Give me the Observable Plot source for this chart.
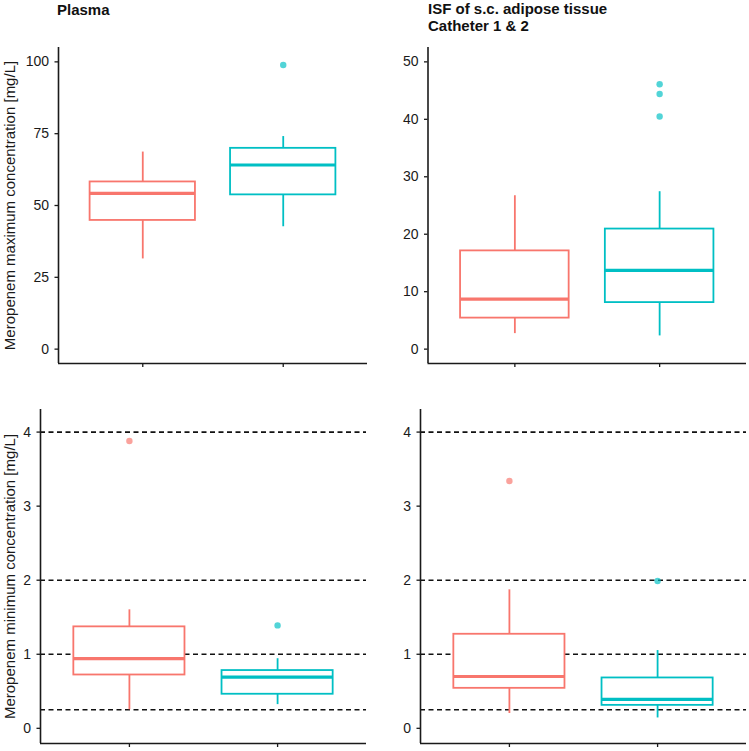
<!DOCTYPE html>
<html>
<head>
<meta charset="utf-8">
<script src="https://cdn.jsdelivr.net/npm/d3@7"></script>
<script src="https://cdn.jsdelivr.net/npm/@observablehq/plot@0.6"></script>
<style>
  body { margin: 0; background: white; }
  #wrap { position: relative; width: 749px; height: 751px; background: white; overflow: hidden;
          font-family: "Liberation Sans", Arial, sans-serif; color: #111; }
  .panel { position: absolute; }
  .panel [aria-label="y-axis tick label"] { font-size: 14px; }
  .title { position: absolute; font-weight: bold; font-size: 15px; line-height: 17px; white-space: pre; color: #111; }
</style>
</head>
<body>
<div id="wrap"></div>
<script>
// ---- data ----
const groups = ["Group 1", "Group 2"];
const groupColors = ["#F8766D", "#00BFC4"];

// Plasma, maximum concentration [mg/L]
const plasmaMaxLow  = [31.4, 42.6];
const plasmaMaxQ1   = [44.8, 53.7];
const plasmaMaxMed  = [54.2, 64.1];
const plasmaMaxQ3   = [58.2, 69.9];
const plasmaMaxHigh = [68.6, 74.0];
const plasmaMaxOutGroup = ["Group 2"];
const plasmaMaxOutValue = [98.9];

// ISF, maximum concentration [mg/L]
const isfMaxLow  = [2.7, 2.3];
const isfMaxQ1   = [5.4, 8.1];
const isfMaxMed  = [8.7, 13.7];
const isfMaxQ3   = [17.1, 20.9];
const isfMaxHigh = [26.7, 27.4];
const isfMaxOutGroup = ["Group 2", "Group 2", "Group 2"];
const isfMaxOutValue = [46.1, 44.4, 40.5];

// Plasma, minimum concentration [mg/L]
const plasmaMinLow  = [0.25, 0.32];
const plasmaMinQ1   = [0.72, 0.46];
const plasmaMinMed  = [0.94, 0.69];
const plasmaMinQ3   = [1.37, 0.78];
const plasmaMinHigh = [1.60, 0.94];
const plasmaMinOutGroup = ["Group 1", "Group 2"];
const plasmaMinOutValue = [3.88, 1.39];

// ISF, minimum concentration [mg/L]
const isfMinLow  = [0.20, 0.14];
const isfMinQ1   = [0.54, 0.31];
const isfMinMed  = [0.70, 0.39];
const isfMinQ3   = [1.27, 0.68];
const isfMinHigh = [1.87, 1.05];
const isfMinOutGroup = ["Group 1", "Group 2"];
const isfMinOutValue = [3.34, 1.99];

// reference lines for minimum concentration panels
const minRefLines = [4, 2, 1, 0.25];

// tick values
const plasmaMaxTicks = [0, 25, 50, 75, 100];
const isfMaxTicks = [0, 10, 20, 30, 40, 50];
const minTicks = [0, 1, 2, 3, 4];

const yLabelMax = "Meropenem maximum concentration [mg/L]";
const yLabelMin = "Meropenem minimum concentration [mg/L]";

// ---- drawing ----
const FONT = '"Liberation Sans", Arial, sans-serif';
const INK = "#1a1a1a";
const xDomain = [0.4, 2.6];
const halfBox = 0.375;

function makePanel(cfg) {
  const rows = groups.map((g, i) => ({
    g, pos: i + 1,
    low: cfg.low[i], q1: cfg.q1[i], med: cfg.med[i], q3: cfg.q3[i], high: cfg.high[i]
  }));
  const outs = cfg.outGroup.map((g, i) => ({ g, pos: groups.indexOf(g) + 1, v: cfg.outValue[i] }));
  const marks = [];
  if (cfg.refLines) {
    marks.push(Plot.ruleY(cfg.refLines, { stroke: "#111", strokeWidth: 1.6, strokeDasharray: "5,3.5" }));
  }
  marks.push(
    Plot.ruleX(rows, { x: "pos", y1: "low", y2: "q1", stroke: "g", strokeWidth: 1.8 }),
    Plot.ruleX(rows, { x: "pos", y1: "q3", y2: "high", stroke: "g", strokeWidth: 1.8 }),
    Plot.rect(rows, { x1: d => d.pos - halfBox, x2: d => d.pos + halfBox, y1: "q1", y2: "q3",
                      stroke: "g", fill: "white", strokeWidth: 1.8 }),
    Plot.ruleY(rows, { y: "med", x1: d => d.pos - halfBox, x2: d => d.pos + halfBox,
                       stroke: "g", strokeWidth: 3.2 }),
    Plot.dot(outs, { x: "pos", y: "v", fill: "g", r: 3.2, fillOpacity: 0.68, stroke: "none" }),
    Plot.axisY({ ticks: cfg.ticks, tickFormat: d => String(d), tickSize: 3.5, tickPadding: 6, label: null,
                 fontSize: 14, stroke: INK, strokeWidth: 1.3, fill: INK }),
    Plot.axisX({ ticks: [1, 2], tickFormat: () => "", tickSize: 4, label: null,
                 stroke: INK, strokeWidth: 1.3 }),
    Plot.ruleX([xDomain[0]], { stroke: INK, strokeWidth: 1.6 }),
    Plot.ruleY([cfg.yDomain[0]], { stroke: INK, strokeWidth: 1.6 })
  );
  if (cfg.ylabel) {
    marks.push(Plot.text([cfg.ylabel], { frameAnchor: "left", textAnchor: "middle", rotate: -90,
                                          dx: cfg.labelDx, fontSize: 15, fill: INK }));
  }
  const svg = Plot.plot({
    width: cfg.width, height: cfg.height,
    marginLeft: cfg.ml, marginRight: cfg.mr, marginTop: cfg.mt, marginBottom: cfg.mb,
    x: { domain: xDomain, axis: null },
    y: { domain: cfg.yDomain, axis: null },
    color: { domain: groups, range: groupColors },
    style: { fontFamily: FONT, fontSize: "14px", color: INK, background: "white", overflow: "visible" },
    marks
  });
  svg.classList.add("panel");
  svg.style.left = cfg.left + "px";
  svg.style.top = cfg.top + "px";
  return svg;
}

const wrap = document.getElementById("wrap");

wrap.appendChild(makePanel({
  left: 0, top: 0, width: 375, height: 375, ml: 58, mr: 8, mt: 47, mb: 12,
  low: plasmaMaxLow, q1: plasmaMaxQ1, med: plasmaMaxMed, q3: plasmaMaxQ3, high: plasmaMaxHigh,
  outGroup: plasmaMaxOutGroup, outValue: plasmaMaxOutValue,
  yDomain: [-5, 105], ticks: plasmaMaxTicks, ylabel: yLabelMax, labelDx: -48
}));
wrap.appendChild(makePanel({
  left: 375, top: 0, width: 374, height: 375, ml: 52.5, mr: 3, mt: 47, mb: 12,
  low: isfMaxLow, q1: isfMaxQ1, med: isfMaxMed, q3: isfMaxQ3, high: isfMaxHigh,
  outGroup: isfMaxOutGroup, outValue: isfMaxOutValue,
  yDomain: [-2.5, 52.5], ticks: isfMaxTicks
}));
wrap.appendChild(makePanel({
  left: 0, top: 375, width: 375, height: 376, ml: 40, mr: 9, mt: 34, mb: 8,
  low: plasmaMinLow, q1: plasmaMinQ1, med: plasmaMinMed, q3: plasmaMinQ3, high: plasmaMinHigh,
  outGroup: plasmaMinOutGroup, outValue: plasmaMinOutValue,
  yDomain: [-0.205, 4.305], ticks: minTicks, refLines: minRefLines, ylabel: yLabelMin, labelDx: -30
}));
wrap.appendChild(makePanel({
  left: 375, top: 375, width: 374, height: 376, ml: 45, mr: 3, mt: 34, mb: 8,
  low: isfMinLow, q1: isfMinQ1, med: isfMinMed, q3: isfMinQ3, high: isfMinHigh,
  outGroup: isfMinOutGroup, outValue: isfMinOutValue,
  yDomain: [-0.205, 4.305], ticks: minTicks, refLines: minRefLines
}));

// panel titles
const titles = [
  { text: "Plasma", left: 57, top: 1 },
  { text: "ISF of s.c. adipose tissue\nCatheter 1 & 2", left: 428, top: 0 }
];
for (const t of titles) {
  const div = document.createElement("div");
  div.className = "title";
  div.textContent = t.text;
  div.style.left = t.left + "px";
  div.style.top = t.top + "px";
  wrap.appendChild(div);
}
</script>
</body>
</html>
